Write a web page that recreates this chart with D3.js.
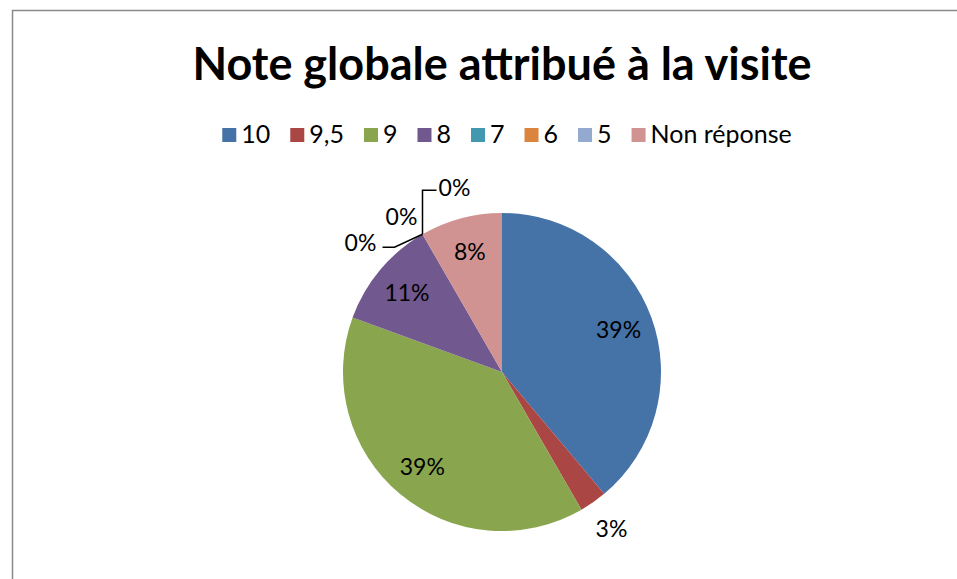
<!DOCTYPE html>
<html>
<head>
<meta charset="utf-8">
<script src="https://cdnjs.cloudflare.com/ajax/libs/d3/7.8.5/d3.min.js"></script>
<style>
  body { margin: 0; background: #fff; }
  svg { display: block; font-family: Lato, "Open Sans", sans-serif; }
</style>
</head>
<body>
<svg id="chart" width="957" height="579"></svg>
<script>
// data (counts, shown as percent)
var categories = ["10", "9,5", "9", "8", "7", "6", "5", "Non réponse"];
var counts = [14, 1, 14, 4, 0, 0, 0, 3];
var colors = ["#4572A7", "#AA4643", "#89A54E", "#71588F", "#4198AF", "#DB843D", "#93A9CF", "#D09392"];
var title = "Note globale attribué à la visite";

var svg = d3.select("#chart"),
  width = 957, height = 579;

// frame of the chart area
svg.append("rect")
  .attr("x", 12.5).attr("y", 10.5)
  .attr("width", width).attr("height", height)
  .attr("fill", "#fff")
  .attr("stroke", "#8a8a8a")
  .attr("stroke-width", 1.5);

// title
svg.append("text")
  .attr("x", 502)
  .attr("y", 80)
  .attr("text-anchor", "middle")
  .attr("font-size", "45px")
  .attr("font-weight", "bold")
  .attr("fill", "#000")
  .text(title);

// legend, laid out from the measured text widths
var legend = svg.append("g").attr("class", "legend");
var items = legend.selectAll("g")
  .data(categories)
  .enter().append("g");
items.append("rect")
  .attr("width", 14).attr("height", 14)
  .attr("y", -15)
  .attr("fill", function (d, i) { return colors[i]; });
items.append("text")
  .attr("x", 19)
  .attr("y", 0)
  .attr("font-size", "25px")
  .text(function (d) { return d; });

var pos = 0;
items.each(function () {
  var w = d3.select(this).select("text").node().getComputedTextLength();
  d3.select(this).attr("transform", "translate(" + pos + ",0)");
  pos += 19 + w + 20;
});
var legendWidth = pos - 20;
legend.attr("transform", "translate(" + (507 - legendWidth / 2) + ",143)");

// pie
var cx = 502, cy = 372, radius = 159;
var total = d3.sum(counts);

var pie = d3.pie()
  .sort(null)
  .value(function (d) { return d; });
var arcs = pie(counts);

var arc = d3.arc().innerRadius(0).outerRadius(radius);
var labelArc = d3.arc().innerRadius(radius * 0.78).outerRadius(radius * 0.78);
var outerArc = d3.arc().innerRadius(radius * 1.2).outerRadius(radius * 1.2);

var g = svg.append("g")
  .attr("transform", "translate(" + cx + "," + cy + ")");

g.selectAll("path")
  .data(arcs)
  .enter().append("path")
  .attr("d", arc)
  .attr("fill", function (d, i) { return colors[i]; });

function pct(d) { return Math.round(d.data / total * 100) + "%"; }

// labels of the slices big enough to hold them
var inside = arcs.filter(function (d) { return d.data / total >= 0.05; });
g.selectAll("text.inside")
  .data(inside)
  .enter().append("text")
  .attr("class", "inside")
  .attr("transform", function (d) { return "translate(" + labelArc.centroid(d) + ")"; })
  .attr("text-anchor", "middle")
  .attr("dy", "0.36em")
  .attr("font-size", "23px")
  .text(pct);

// small slice label outside the pie
var small = arcs.filter(function (d) { return d.data > 0 && d.data / total < 0.05; });
g.selectAll("text.small")
  .data(small)
  .enter().append("text")
  .attr("class", "small")
  .attr("transform", function (d) { return "translate(" + outerArc.centroid(d) + ")"; })
  .attr("text-anchor", "middle")
  .attr("dy", "0.36em")
  .attr("font-size", "23px")
  .text(pct);

// empty slices: labels fanned out with leader lines from the arc point
var zeros = arcs.filter(function (d) { return d.data === 0; });
// offsets (from the arc point) of the leader bend, its end and the label
var zeroLayout = [
  { bend: [-28, 13], end: [-40, 13], label: [-62, 8] },
  { bend: [0, 0], end: [0, 0], label: [-21, -18] },
  { bend: [0, -44], end: [14, -44], label: [32, -47] }
];
zeros.forEach(function (d, i) {
  var a = d.startAngle;
  var p = [Math.sin(a) * radius, -Math.cos(a) * radius];
  var L = zeroLayout[i];
  if (L.end[0] !== 0 || L.end[1] !== 0) {
    g.append("path")
      .attr("d", d3.line()([p, [p[0] + L.bend[0], p[1] + L.bend[1]], [p[0] + L.end[0], p[1] + L.end[1]]]))
      .attr("fill", "none")
      .attr("stroke", "#000")
      .attr("stroke-width", 1.5);
  }
  g.append("text")
    .attr("x", p[0] + L.label[0])
    .attr("y", p[1] + L.label[1])
    .attr("text-anchor", "middle")
    .attr("dy", "0.36em")
    .attr("font-size", "23px")
    .text(pct(d));
});
</script>
</body>
</html>
